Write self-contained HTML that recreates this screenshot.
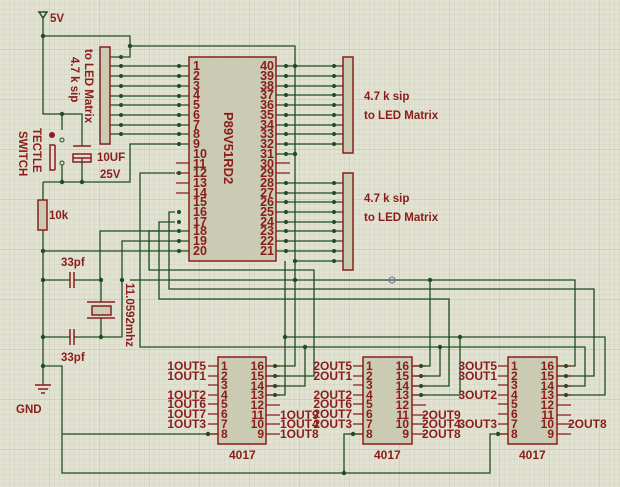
<!DOCTYPE html>
<html><head><meta charset="utf-8"><style>
html,body{margin:0;padding:0;background:#e2e2d2;}
svg{display:block}
text{font-family:"Liberation Sans",sans-serif;font-weight:bold;fill:#8a1c1c;}
</style></head><body>
<svg width="620" height="487" viewBox="0 0 620 487" xmlns="http://www.w3.org/2000/svg">
<defs>
<pattern id="g" width="5" height="5" patternUnits="userSpaceOnUse">
<path d="M5 0V5H0" fill="none" stroke="#cfcfbd" stroke-width="0.7"/>
</pattern>
<pattern id="G" width="50" height="50" patternUnits="userSpaceOnUse">
<path d="M50 0V50H0" fill="none" stroke="#b9b9a6" stroke-width="0.8"/>
</pattern>
</defs>
<rect width="620" height="487" fill="#e2e2d2"/>
<rect width="620" height="487" fill="url(#g)"/>
<rect width="620" height="487" fill="url(#G)"/>

<g stroke="#1f4d1f" stroke-width="1.3" fill="none">
<path d="M43 18V114H82V146M43 36H130V46H295V366H276"/>
<path d="M125 57H130V46"/>
<path d="M110 57H125M110 66H189M110 76H189M110 86H189M110 96H189M110 105H189M110 115H189M110 125H189M110 134H189"/>
<path d="M62 114V130M62 165V182M82 158V182M43 182H130V144H189"/>
<path d="M43 182V200M43 230V366H62V473H490V434H508M344 473V434H363M62 434H218"/>
<path d="M43 251H189"/>
<path d="M43 280H70M74 280H101V302M101 318V337H74M70 337H43M101 337H122V241H189M100 280V231H189M101 280H100"/>
<path d="M43 366V385"/>
<path d="M175 212H169V289H594V376H557M175 222H159V299H449V386H412M175 231H149V270H314V376H266M175 173H140V347H585V386H557"/>
<path d="M305 347V386H266M440 347V376H412M285 337H605V395H557M285 261V395H266M460 337V395H412"/>
<path d="M138 280H575V366H557M430 280V366H412"/>
<path d="M130 280H138"/>
<path d="M276 66H343M276 76H343M276 86H343M276 95H343M276 105H343M276 115H343M276 125H343M276 134H343M276 144H343M276 154H295"/>
<path d="M276 183H343M276 193H343M276 202H343M276 212H343M276 222H343M276 231H343M276 241H343M276 251H343M295 261H343"/>
</g>
<g stroke="#8a1c1c" stroke-width="1.2">
<path d="M176 163H189M176 173H189M176 183H189M176 193H189M276 163H290M276 173H290"/>
<path d="M208 366H218M208 376H218M208 385H218M208 395H218M208 404H218M208 414H218M208 424H218M208 434H218M266 366H280M266 376H280M266 386H280M266 395H280M266 405H280M266 415H280M266 424H280M266 434H280"/>
<path d="M353 366H363M353 376H363M353 385H363M353 395H363M353 404H363M353 414H363M353 424H363M353 434H363M412 366H426M412 376H426M412 386H426M412 395H426M412 405H426M412 415H426M412 424H426M412 434H426"/>
<path d="M498 366H508M498 376H508M498 385H508M498 395H508M498 404H508M498 414H508M498 424H508M498 434H508M557 366H571M557 376H571M557 386H571M557 395H571M557 405H571M557 415H571M557 424H571M557 434H571"/>
</g>
<g fill="#cbcbb3" stroke="#8a1c1c" stroke-width="1.5">
<rect x="189" y="57" width="87" height="204"/>
<rect x="100" y="47" width="10" height="97"/>
<rect x="343" y="57" width="10" height="96"/>
<rect x="343" y="173" width="10" height="97"/>
<rect x="218" y="357" width="48" height="87"/>
<rect x="363" y="357" width="49" height="87"/>
<rect x="508" y="357" width="49" height="87"/>
<rect x="38" y="200" width="9" height="30"/>
<rect x="92" y="306" width="19" height="9"/>
</g>
<g stroke="#8a1c1c" stroke-width="1.5" fill="none">
<path d="M73 146H91M73 158H91M73 154H91V162H73Z"/>
<path d="M70 272V288M74 272V288M70 329V345M74 329V345"/>
<path d="M87 302H115M87 318H115"/>
<path d="M55 145H50V170H55M55 145V170"/>
<path d="M35 385H51M38 389H48M41 393H45"/>
<path d="M43 18L39 12H47Z" stroke="#1f4d1f"/>
</g>
<circle cx="52" cy="135" r="3" fill="#8a1c1c"/>
<circle cx="62" cy="140" r="2" fill="none" stroke="#1f4d1f"/>
<circle cx="62" cy="163" r="2" fill="none" stroke="#1f4d1f"/>
<g fill="#1f4d1f">
<circle cx="130" cy="46" r="2.2"/><circle cx="43" cy="36" r="2.2"/><circle cx="62" cy="114" r="2.2"/><circle cx="62" cy="182" r="2.2"/><circle cx="82" cy="182" r="2.2"/>
<circle cx="43" cy="251" r="2.2"/><circle cx="43" cy="280" r="2.2"/><circle cx="43" cy="337" r="2.2"/><circle cx="43" cy="366" r="2.2"/><circle cx="101" cy="280" r="2.2"/><circle cx="101" cy="337" r="2.2"/><circle cx="122" cy="280" r="2.2"/>
<circle cx="208" cy="434" r="2.2"/><circle cx="344" cy="473" r="2.2"/><circle cx="353" cy="434" r="2.2"/><circle cx="498" cy="434" r="2.2"/>
<circle cx="295" cy="66" r="2.2"/><circle cx="295" cy="154" r="2.2"/><circle cx="295" cy="261" r="2.2"/><circle cx="295" cy="280" r="2.2"/><circle cx="430" cy="280" r="2.2"/><circle cx="285" cy="337" r="2.2"/><circle cx="460" cy="337" r="2.2"/><circle cx="305" cy="347" r="2.2"/><circle cx="440" cy="347" r="2.2"/>
<circle cx="121" cy="57" r="2"/><circle cx="121" cy="66" r="2"/><circle cx="121" cy="76" r="2"/><circle cx="121" cy="86" r="2"/><circle cx="121" cy="96" r="2"/><circle cx="121" cy="105" r="2"/><circle cx="121" cy="115" r="2"/><circle cx="121" cy="125" r="2"/><circle cx="121" cy="134" r="2"/>
<circle cx="179" cy="66" r="2"/><circle cx="179" cy="76" r="2"/><circle cx="179" cy="86" r="2"/><circle cx="179" cy="96" r="2"/><circle cx="179" cy="105" r="2"/><circle cx="179" cy="115" r="2"/><circle cx="179" cy="125" r="2"/><circle cx="179" cy="134" r="2"/><circle cx="179" cy="144" r="2"/><circle cx="179" cy="173" r="2"/><circle cx="179" cy="212" r="2"/><circle cx="179" cy="222" r="2"/><circle cx="179" cy="231" r="2"/><circle cx="179" cy="241" r="2"/><circle cx="179" cy="251" r="2"/>
<circle cx="286" cy="66" r="2"/><circle cx="286" cy="76" r="2"/><circle cx="286" cy="86" r="2"/><circle cx="286" cy="95" r="2"/><circle cx="286" cy="105" r="2"/><circle cx="286" cy="115" r="2"/><circle cx="286" cy="125" r="2"/><circle cx="286" cy="134" r="2"/><circle cx="286" cy="144" r="2"/><circle cx="286" cy="154" r="2"/>
<circle cx="286" cy="183" r="2"/><circle cx="286" cy="193" r="2"/><circle cx="286" cy="202" r="2"/><circle cx="286" cy="212" r="2"/><circle cx="286" cy="222" r="2"/><circle cx="286" cy="231" r="2"/><circle cx="286" cy="241" r="2"/><circle cx="286" cy="251" r="2"/>
<circle cx="334" cy="66" r="2"/><circle cx="334" cy="76" r="2"/><circle cx="334" cy="86" r="2"/><circle cx="334" cy="95" r="2"/><circle cx="334" cy="105" r="2"/><circle cx="334" cy="115" r="2"/><circle cx="334" cy="125" r="2"/><circle cx="334" cy="134" r="2"/><circle cx="334" cy="144" r="2"/>
<circle cx="334" cy="183" r="2"/><circle cx="334" cy="193" r="2"/><circle cx="334" cy="202" r="2"/><circle cx="334" cy="212" r="2"/><circle cx="334" cy="222" r="2"/><circle cx="334" cy="231" r="2"/><circle cx="334" cy="241" r="2"/><circle cx="334" cy="251" r="2"/><circle cx="334" cy="261" r="2"/>
<circle cx="275" cy="366" r="2"/><circle cx="275" cy="376" r="2"/><circle cx="275" cy="386" r="2"/><circle cx="275" cy="395" r="2"/>
<circle cx="421" cy="366" r="2"/><circle cx="421" cy="376" r="2"/><circle cx="421" cy="386" r="2"/><circle cx="421" cy="395" r="2"/>
<circle cx="566" cy="366" r="2"/><circle cx="566" cy="376" r="2"/><circle cx="566" cy="386" r="2"/><circle cx="566" cy="395" r="2"/>
</g>
<circle cx="392" cy="280" r="3" fill="none" stroke="#6a6aa0"/>

<g font-size="12.5">
<g text-anchor="start">
<text x="193" y="70">1</text><text x="193" y="80">2</text><text x="193" y="90">3</text><text x="193" y="99">4</text><text x="193" y="109">5</text><text x="193" y="119">6</text><text x="193" y="129">7</text><text x="193" y="138">8</text><text x="193" y="148">9</text><text x="193" y="158">10</text><text x="193" y="168">11</text><text x="193" y="177">12</text><text x="193" y="187">13</text><text x="193" y="197">14</text><text x="193" y="206">15</text><text x="193" y="216">16</text><text x="193" y="226">17</text><text x="193" y="235">18</text><text x="193" y="245">19</text><text x="193" y="255">20</text>
</g>
<g text-anchor="end">
<text x="274" y="70">40</text><text x="274" y="80">39</text><text x="274" y="90">38</text><text x="274" y="99">37</text><text x="274" y="109">36</text><text x="274" y="119">35</text><text x="274" y="129">34</text><text x="274" y="138">33</text><text x="274" y="148">32</text><text x="274" y="158">31</text><text x="274" y="168">30</text><text x="274" y="177">29</text><text x="274" y="187">28</text><text x="274" y="197">27</text><text x="274" y="206">26</text><text x="274" y="216">25</text><text x="274" y="226">24</text><text x="274" y="235">23</text><text x="274" y="245">22</text><text x="274" y="255">21</text>
</g>
</g>
<text font-size="13" transform="translate(224,112) rotate(90)">P89V51RD2</text>

<g font-size="12">
<g id="c1">
<text x="221" y="370">1</text><text x="221" y="380">2</text><text x="221" y="389">3</text><text x="221" y="399">4</text><text x="221" y="408">5</text><text x="221" y="418">6</text><text x="221" y="428">7</text><text x="221" y="438">8</text>
<g text-anchor="end"><text x="264" y="370">16</text><text x="264" y="380">15</text><text x="264" y="390">14</text><text x="264" y="399">13</text><text x="264" y="409">12</text><text x="264" y="419">11</text><text x="264" y="428">10</text><text x="264" y="438">9</text></g>
</g>
<use href="#c1" x="145"/><use href="#c1" x="290"/>
<text x="229" y="459">4017</text><text x="374" y="459">4017</text><text x="519" y="459">4017</text>
<g text-anchor="end">
<text x="206" y="370">1OUT5</text><text x="206" y="380">1OUT1</text><text x="206" y="399">1OUT2</text><text x="206" y="408">1OUT6</text><text x="206" y="418">1OUT7</text><text x="206" y="428">1OUT3</text>
<text x="352" y="370">2OUT5</text><text x="352" y="380">2OUT1</text><text x="352" y="399">2OUT2</text><text x="352" y="408">2OUT6</text><text x="352" y="418">2OUT7</text><text x="352" y="428">2OUT3</text>
<text x="497" y="370">3OUT5</text><text x="497" y="380">3OUT1</text><text x="497" y="399">3OUT2</text><text x="497" y="428">3OUT3</text>
</g>
<text x="280" y="419">1OUT9</text><text x="280" y="428">1OUT4</text><text x="280" y="438">1OUT8</text>
<text x="422" y="419">2OUT9</text><text x="422" y="428">2OUT4</text><text x="422" y="438">2OUT8</text>
<text x="568" y="428">2OUT8</text>
</g>

<g font-size="11.5">
<text x="50" y="22">5V</text>
<text x="364" y="100">4.7 k sip</text><text x="364" y="119">to LED Matrix</text>
<text x="364" y="202">4.7 k sip</text><text x="364" y="221">to LED Matrix</text>
<text x="97" y="161">10UF</text><text x="100" y="178">25V</text>
<text x="49" y="219">10k</text>
<text x="61" y="266">33pf</text><text x="61" y="361">33pf</text>
<text x="16" y="413">GND</text>
<text transform="translate(126,283) rotate(90)">11.0592mhz</text>
<text transform="translate(85,49) rotate(90)">to LED Matrix</text>
<text transform="translate(71,57) rotate(90)">4.7 k sip</text>
<text transform="translate(33,128) rotate(90)">TECTLE</text>
<text transform="translate(19,131) rotate(90)">SWITCH</text>
</g>
</svg>
</body></html>
